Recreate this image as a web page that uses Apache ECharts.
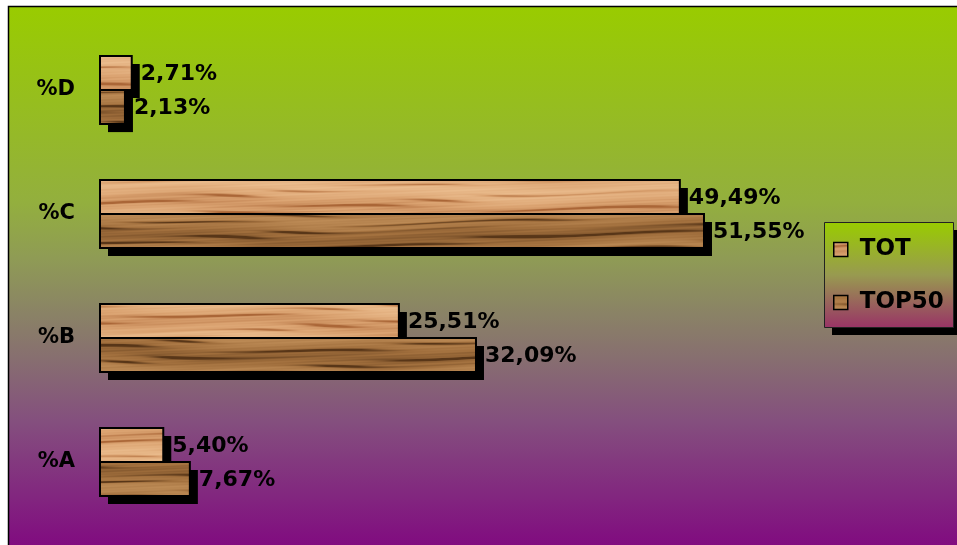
<!DOCTYPE html>
<html>
<head>
<meta charset="utf-8">
<script src="https://cdn.jsdelivr.net/npm/echarts@6/dist/echarts.min.js"></script>
<style>
  html, body { margin: 0; padding: 0; background: #ffffff; }
  #chart { width: 957px; height: 545px; }
</style>
</head>
<body>
<div id="chart"></div>
<script>
// Categories from bottom to top on the vertical axis
const categories = ['%A', '%B', '%C', '%D'];
const seriesNames = ['TOT', 'TOP50'];
const totValues = [5.40, 25.51, 49.49, 2.71];
const top50Values = [7.67, 32.09, 51.55, 2.13];

const FONT = 'DejaVu Sans';

// Procedural wood-grain texture: short dark streaks over a mottled base
function woodTexture(base, dark, light, phase, depth) {
  const w = 960, h = 545;
  const c = document.createElement('canvas');
  c.width = w; c.height = h;
  const ctx = c.getContext('2d');
  const img = ctx.createImageData(w, h);
  for (let y = 0; y < h; y++) {
    for (let x = 0; x < w; x++) {
      const warp = 1.4 * Math.sin(x * 0.009 + phase) + 0.7 * Math.sin(x * 0.027 + y * 0.08 + 1.3 * phase);
      const s = Math.sin(y * 0.42 + warp);
      const line = Math.pow(Math.abs(s), 6);
      const envRaw = 0.5 + 0.5 * Math.sin(x * 0.021 + y * 0.37 + phase * 2.1);
      const env = envRaw * envRaw;
      const broad = Math.sin(y * 0.16 + 0.6 * warp + phase);
      const fleck = Math.sin(x * 0.08 + y * 1.7) * Math.sin(x * 0.015 + y * 0.6);
      let t = 0.62 - depth * line * env - 0.22 * broad + 0.07 * fleck;
      t = Math.max(0, Math.min(1, t));
      let r, g, b;
      if (t > 0.5) {
        const k = (t - 0.5) * 2;
        r = base[0] + (light[0] - base[0]) * k;
        g = base[1] + (light[1] - base[1]) * k;
        b = base[2] + (light[2] - base[2]) * k;
      } else {
        const k = (0.5 - t) * 2;
        r = base[0] + (dark[0] - base[0]) * k;
        g = base[1] + (dark[1] - base[1]) * k;
        b = base[2] + (dark[2] - base[2]) * k;
      }
      const i = (y * w + x) * 4;
      img.data[i] = r; img.data[i + 1] = g; img.data[i + 2] = b; img.data[i + 3] = 255;
    }
  }
  ctx.putImageData(img, 0, 0);
  return c;
}

const lightWood = woodTexture([218, 162, 112], [170, 102, 55], [238, 194, 148], 0, 0.6);
const darkWood = woodTexture([160, 110, 60], [88, 54, 24], [196, 146, 92], 1.7, 0.75);

const fmt = v => v.toFixed(2).replace('.', ',') + '%';

// Draws one bar of a pair: slot 0 sits above the category centre, slot 1 below
function makeRenderer(slot, tex) {
  return function (params, api) {
    const v = api.value(0);
    const cat = api.value(1);
    const start = api.coord([0, cat]);
    const end = api.coord([v, cat]);
    const band = api.size([0, 1])[1];
    const h = band * 0.275;
    const y0 = slot === 0 ? start[1] - h : start[1];
    const w = end[0] - start[0];
    return {
      type: 'group',
      children: [
        {
          type: 'rect',
          shape: { x: start[0] + 8, y: y0 + 8, width: w, height: h },
          style: { fill: '#000' }
        },
        {
          type: 'rect',
          shape: { x: start[0], y: y0, width: w, height: h },
          style: { fill: { image: tex, repeat: 'repeat' }, stroke: '#000', lineWidth: 2 }
        },
        {
          type: 'text',
          x: end[0] + 9,
          y: y0 + h / 2 + 1,
          style: {
            text: fmt(v),
            fontFamily: FONT,
            fontWeight: 'bold',
            fontSize: 22,
            fill: '#000',
            verticalAlign: 'middle'
          }
        }
      ]
    };
  };
}

const chart = echarts.init(document.getElementById('chart'), null, { renderer: 'canvas' });

chart.setOption({
  animation: false,
  graphic: [
    {
      type: 'rect',
      z: -10,
      silent: true,
      shape: { x: 8.5, y: 6.5, width: 980, height: 560 },
      style: {
        fill: new echarts.graphic.LinearGradient(0, 0, 0, 1, [
          { offset: 0, color: '#99cc00' },
          { offset: 0.35, color: '#93af3e' },
          { offset: 0.45, color: '#8f9b55' },
          { offset: 0.55, color: '#8a8266' },
          { offset: 0.63, color: '#876e70' },
          { offset: 0.74, color: '#844f7e' },
          { offset: 1, color: '#800080' }
        ]),
        stroke: '#000',
        lineWidth: 1.5
      }
    },
    // legend frame and its drop shadow
    {
      type: 'rect',
      z: 1,
      silent: true,
      shape: { x: 832, y: 230, width: 129, height: 105 },
      style: { fill: '#000' }
    },
    {
      type: 'rect',
      z: 1,
      silent: true,
      shape: { x: 824.5, y: 222.5, width: 129, height: 105 },
      style: {
        fill: new echarts.graphic.LinearGradient(0, 0, 0, 1, [
          { offset: 0, color: '#99cc00' },
          { offset: 0.5, color: '#989a50' },
          { offset: 1, color: '#993366' }
        ]),
        stroke: '#222',
        lineWidth: 1
      }
    }
  ],
  legend: {
    data: seriesNames,
    orient: 'vertical',
    left: 824,
    top: 222,
    padding: [16, 14, 16, 9],
    itemGap: 30,
    itemWidth: 14,
    itemHeight: 14,
    icon: 'rect',
    z: 5,
    itemStyle: {
      borderColor: '#000',
      borderWidth: 1.5
    },
    textStyle: {
      fontFamily: FONT,
      fontWeight: 'bold',
      fontSize: 23,
      lineHeight: 22,
      color: '#000',
      padding: [0, 0, 0, 7]
    }
  },
  grid: { left: 100, right: 154, top: 28, bottom: 21 },
  xAxis: {
    type: 'value',
    min: 0,
    max: 60,
    show: false
  },
  yAxis: {
    type: 'category',
    data: categories,
    axisLine: { show: false },
    axisTick: { show: false },
    splitLine: { show: false },
    axisLabel: {
      margin: 25,
      fontFamily: FONT,
      fontWeight: 'bold',
      fontSize: 21,
      color: '#000'
    }
  },
  series: [
    {
      name: 'TOT',
      type: 'custom',
      z: 2,
      clip: false,
      itemStyle: { color: { image: lightWood, repeat: 'repeat' } },
      encode: { x: 0, y: 1 },
      data: totValues.map((v, i) => [v, i]),
      renderItem: makeRenderer(0, lightWood)
    },
    {
      name: 'TOP50',
      type: 'custom',
      z: 3,
      clip: false,
      itemStyle: { color: { image: darkWood, repeat: 'repeat' } },
      encode: { x: 0, y: 1 },
      data: top50Values.map((v, i) => [v, i]),
      renderItem: makeRenderer(1, darkWood)
    }
  ]
});
</script>
</body>
</html>
